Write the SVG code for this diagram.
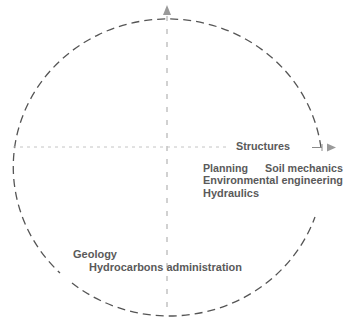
<svg xmlns="http://www.w3.org/2000/svg" width="347" height="320" viewBox="0 0 347 320">
<defs>
<style>
.arc{fill:none;stroke:#555;stroke-width:1.3;stroke-dasharray:8 5}
.vax{fill:none;stroke:#999;stroke-width:0.9;stroke-dasharray:5 8}
.hax{fill:none;stroke:#c4c4c4;stroke-width:1;stroke-dasharray:3 4}
.head{fill:#9a9a9a}
.lbl{font-family:"Liberation Sans",Arial,sans-serif;font-weight:bold;font-size:10.7px;fill:#5a5a5a}
</style>
</defs>
<rect width="347" height="320" fill="#fff"/>
<g id="connectors">
<path class="arc" d="M 321 148 A 154.5 148 0 1 0 60 273"/>
<path class="arc" d="M 72 283 A 154.5 148 0 0 0 315 217"/>
<path class="vax" d="M 167 16 L 167 315"/>
<path class="hax" d="M 13 147 L 226 147"/>
<path d="M 312 147.5 L 322 147.5 M 322 144 L 322 151" stroke="#8a8a8a" stroke-width="1" fill="none"/>
<polygon class="head" points="327,143.5 336,147.5 327,151.5"/>
<polygon class="head" points="167,5 163,15 171,15"/>
</g>
<g id="structures"><text class="lbl" x="236" y="150" textLength="54" lengthAdjust="spacingAndGlyphs">Structures</text></g>
<g id="planning"><text class="lbl" x="203" y="171.5" textLength="45" lengthAdjust="spacingAndGlyphs">Planning</text></g>
<g id="soil"><text class="lbl" x="265" y="171.5" textLength="78" lengthAdjust="spacingAndGlyphs">Soil mechanics</text></g>
<g id="environmental"><text class="lbl" x="203" y="184" textLength="140" lengthAdjust="spacingAndGlyphs">Environmental engineering</text></g>
<g id="hydraulics"><text class="lbl" x="203" y="196.5" textLength="56" lengthAdjust="spacingAndGlyphs">Hydraulics</text></g>
<g id="geology"><text class="lbl" x="73" y="258" textLength="44" lengthAdjust="spacingAndGlyphs">Geology</text></g>
<g id="hydrocarbons"><text class="lbl" x="89" y="270.5" textLength="153" lengthAdjust="spacingAndGlyphs">Hydrocarbons administration</text></g>
</svg>
